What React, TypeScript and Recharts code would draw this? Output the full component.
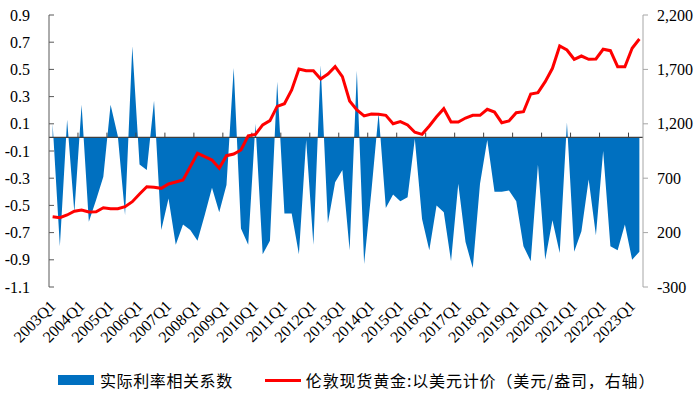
import React from 'react';
import { ComposedChart, Area, Line, XAxis, YAxis, ReferenceLine, Legend } from 'recharts';

// quarterly categories, 2003Q1 .. 2023Q2
const quarters: string[] = [
  '2003Q1', '2003Q2', '2003Q3', '2003Q4', '2004Q1', '2004Q2', '2004Q3', '2004Q4',
  '2005Q1', '2005Q2', '2005Q3', '2005Q4', '2006Q1', '2006Q2', '2006Q3', '2006Q4',
  '2007Q1', '2007Q2', '2007Q3', '2007Q4', '2008Q1', '2008Q2', '2008Q3', '2008Q4',
  '2009Q1', '2009Q2', '2009Q3', '2009Q4', '2010Q1', '2010Q2', '2010Q3', '2010Q4',
  '2011Q1', '2011Q2', '2011Q3', '2011Q4', '2012Q1', '2012Q2', '2012Q3', '2012Q4',
  '2013Q1', '2013Q2', '2013Q3', '2013Q4', '2014Q1', '2014Q2', '2014Q3', '2014Q4',
  '2015Q1', '2015Q2', '2015Q3', '2015Q4', '2016Q1', '2016Q2', '2016Q3', '2016Q4',
  '2017Q1', '2017Q2', '2017Q3', '2017Q4', '2018Q1', '2018Q2', '2018Q3', '2018Q4',
  '2019Q1', '2019Q2', '2019Q3', '2019Q4', '2020Q1', '2020Q2', '2020Q3', '2020Q4',
  '2021Q1', '2021Q2', '2021Q3', '2021Q4', '2022Q1', '2022Q2', '2022Q3', '2022Q4',
  '2023Q1', '2023Q2',
];

// 实际利率相关系数 (left axis)
const corr: number[] = [
  0.1, -0.8, 0.13, -0.55, 0.24, -0.62, -0.46, -0.29, 0.24, 0.01,
  -0.57, 0.67, -0.2, -0.24, 0.27, -0.68, -0.45, -0.79, -0.64, -0.68,
  -0.76, -0.57, -0.37, -0.55, -0.35, 0.51, -0.67, -0.79, 0.1, -0.86,
  -0.76, 0.41, -0.56, -0.56, -0.86, -0.02, -0.79, 0.53, -0.63, -0.33,
  -0.24, -0.83, 0.49, -0.93, -0.4, 0.18, -0.52, -0.42, -0.47, -0.44,
  -0.01, -0.6, -0.83, -0.5, -0.55, -0.91, -0.34, -0.77, -0.96, -0.34,
  -0.02, -0.4, -0.4, -0.39, -0.47, -0.8, -0.91, -0.2, -0.9, -0.61,
  -0.85, 0.11, -0.84, -0.69, -0.31, -0.72, -0.1, -0.8, -0.83, -0.64,
  -0.9, -0.84,
];

// 伦敦现货黄金 USD/oz (right axis)
const gold: number[] = [
  346, 337, 362, 396, 408, 389, 392, 429, 420, 420,
  438, 484, 555, 622, 616, 607, 647, 665, 683, 806,
  929, 898, 867, 791, 907, 922, 959, 1090, 1103, 1190,
  1229, 1360, 1385, 1511, 1704, 1688, 1688, 1612, 1658, 1725,
  1633, 1410, 1327, 1272, 1290, 1287, 1278, 1200, 1220, 1189,
  1122, 1103, 1180, 1265, 1339, 1217, 1217, 1253, 1278, 1278,
  1333, 1308, 1210, 1226, 1302, 1311, 1474, 1486, 1587, 1710,
  1915, 1878, 1793, 1823, 1793, 1796, 1885, 1872, 1725, 1725,
  1894, 1979,
];

const tickLabels: string[] = [
  '2003Q1', '2004Q1', '2005Q1', '2006Q1', '2007Q1', '2008Q1', '2009Q1',
  '2010Q1', '2011Q1', '2012Q1', '2013Q1', '2014Q1', '2015Q1', '2016Q1',
  '2017Q1', '2018Q1', '2019Q1', '2020Q1', '2021Q1', '2022Q1', '2023Q1',
];
const leftTicks: number[] = [0.9, 0.7, 0.5, 0.3, 0.1, -0.1, -0.3, -0.5, -0.7, -0.9, -1.1];
const rightTicks: number[] = [2200, 1700, 1200, 700, 200, -300];

const BLUE = '#0070C0';
const RED = '#FF0000';
const SERIF = 'Liberation Serif, Times New Roman, serif';
const CJK = 'Noto Sans CJK SC, sans-serif';

const data = quarters.map((q, i) => ({ idx: i, q, corr: corr[i], gold: gold[i] }));
const tickIdx = tickLabels.map((l) => quarters.indexOf(l));
// small tick marks sit on category boundaries along the zero line
const boundaries = tickIdx.slice(1).map((i) => i - 0.5);

function QuarterTick({ x, y, payload }: any) {
  const label = quarters[payload.value] ?? '';
  const ax = x + 4;
  return (
    <text
      x={ax}
      y={y}
      transform={`rotate(-45 ${ax} ${y})`}
      textAnchor="end"
      style={{ fontFamily: SERIF, fontSize: 16 }}
      fill="#000"
    >
      {label}
    </text>
  );
}

function ChartLegend() {
  return (
    <div
      style={{
        display: 'flex',
        alignItems: 'center',
        height: 28,
        paddingLeft: 58,
        fontFamily: CJK,
        fontSize: 16,
        color: '#000',
        whiteSpace: 'nowrap',
      }}
    >
      <span style={{ display: 'inline-block', width: 36, height: 10, background: BLUE }} />
      <span style={{ marginLeft: 6, letterSpacing: 0.6 }}>实际利率相关系数</span>
      <span style={{ display: 'inline-block', width: 36, height: 3, background: RED, marginLeft: 32 }} />
      <span style={{ marginLeft: 5, letterSpacing: 0.85 }}>伦敦现货黄金:以美元计价（美元/盎司，右轴）</span>
    </div>
  );
}

const axisTick = { style: { fontFamily: SERIF, fontSize: 16 }, fill: '#000' };

export default function App() {
  return (
    <div
      style={{
        position: 'absolute',
        left: 0,
        top: 0,
        width: 700,
        height: 394,
        background: '#fff',
        fontFamily: SERIF,
      }}
    >
      <ComposedChart width={700} height={394} data={data} margin={{ top: 15, right: 0, left: 0, bottom: 0 }}>
        <XAxis
          dataKey="idx"
          type="number"
          domain={[-0.5, 81.5]}
          ticks={tickIdx}
          interval={0}
          axisLine={false}
          tickLine={false}
          tickSize={0}
          tickMargin={20}
          height={79}
          tick={<QuarterTick />}
        />
        <YAxis
          yAxisId="left"
          domain={[-1.1, 0.9]}
          ticks={leftTicks}
          interval={0}
          width={49}
          stroke="#595959"
          tickSize={-5}
          tickMargin={24}
          tickFormatter={(v: number) => v.toFixed(1)}
          tick={axisTick}
        />
        <YAxis
          yAxisId="right"
          orientation="right"
          domain={[-300, 2200]}
          ticks={rightTicks}
          interval={0}
          width={57}
          stroke="#a6a6a6"
          tickSize={5}
          tickMargin={9}
          tickFormatter={(v: number) => v.toLocaleString('en-US')}
          tick={axisTick}
        />
        <Area
          yAxisId="left"
          dataKey="corr"
          type="linear"
          baseValue={0}
          fill={BLUE}
          fillOpacity={1}
          stroke="none"
          isAnimationActive={false}
        />
        <ReferenceLine yAxisId="left" y={0} stroke="#404040" strokeWidth={1.3} />
        {boundaries.map((b) => (
          <ReferenceLine
            key={b}
            yAxisId="left"
            segment={[{ x: b, y: 0 }, { x: b, y: 0.035 }]}
            stroke="#404040"
            strokeWidth={1}
          />
        ))}
        <Line
          yAxisId="right"
          dataKey="gold"
          type="linear"
          stroke={RED}
          strokeWidth={3}
          dot={false}
          activeDot={false}
          isAnimationActive={false}
        />
        <Legend verticalAlign="bottom" height={28} content={<ChartLegend />} wrapperStyle={{ left: 0, width: 700 }} />
      </ComposedChart>
    </div>
  );
}
